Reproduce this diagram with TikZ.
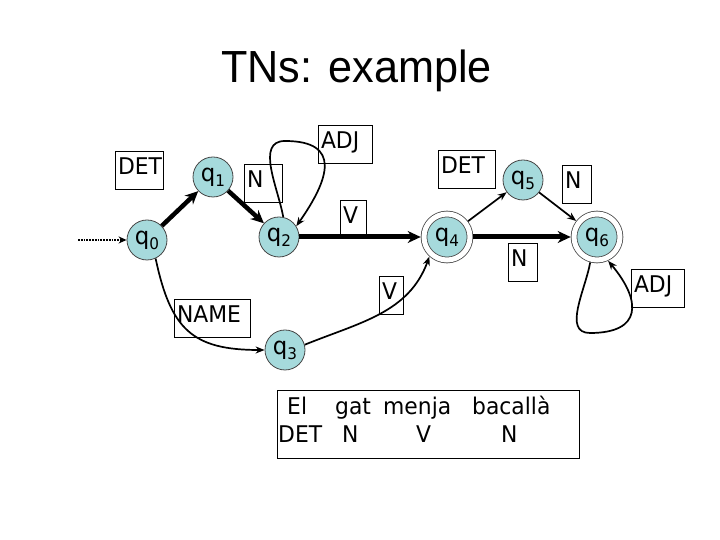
\documentclass[tikz,border=0pt]{standalone}
\usepackage{fontspec}
\setmainfont{DejaVu Sans}
\newfontfamily\labfont[FakeStretch=0.95]{DejaVu Sans}
\newfontfamily\titfont[FakeStretch=0.96]{Liberation Sans}
\usetikzlibrary{arrows.meta}
\definecolor{stfill}{RGB}{166,218,220}
\definecolor{stline}{RGB}{70,70,70}
\newcommand\qlab[1]{q\raisebox{-5pt}{\fontsize{16}{16}\selectfont #1}}
\tikzset{
 lbl/.style={draw=black, line width=0.9pt, inner xsep=3pt, inner ysep=0pt,
   minimum height=38pt, align=left, text height=17pt, text depth=8pt,
   font=\labfont\fontsize{23}{26}\selectfont},
 st/.style={circle, draw=stline, line width=0.8pt, fill=stfill, minimum size=40pt,
   inner sep=0pt, font=\labfont\fontsize{24}{28}\selectfont},
 acc/.style={st, double=white, double distance=5pt, minimum size=46pt, outer sep=3.3pt},
 thk/.style={line width=4.5pt, -{Stealth[length=13pt,width=12pt]}},
 thn/.style={line width=1.7pt, -{Stealth[length=9pt,width=7pt]}},
 word/.style={anchor=base west, inner sep=0pt, font=\labfont\fontsize{23}{26}\selectfont},
}
\begin{document}
\begin{tikzpicture}[x=1pt,y=1pt]
\useasboundingbox (0,0) rectangle (720,540);
% title
\node[anchor=base, inner sep=0pt, font=\titfont\fontsize{45}{50}\selectfont] (title) at (356.5,457) {TNs: example};
% label boxes
\node[lbl, text width=42pt] (detA) at (139,370) {DET};
\node[lbl, text width=32pt] (nA) at (263,356.5) {N};
\node[lbl, text width=48pt] (adjA) at (345,396) {ADJ};
\node[lbl, text width=20pt] (vA) at (353,321) {V};
\node[lbl, text width=51pt] (detB) at (466.5,371) {DET};
\node[lbl, text width=23pt] (nB) at (576.5,356) {N};
\node[lbl, text width=23pt] (nC) at (522.5,278) {N};
\node[lbl, text width=47pt] (adjB) at (657.5,251.5) {ADJ};
\node[lbl, text width=70pt] (name) at (212,221.5) {NAME};
\node[lbl, text width=18pt] (vB) at (391,245) {V};
% sentence
\node[draw=black, line width=0.9pt, minimum width=302pt, minimum height=68pt, inner sep=0pt] (sent) at (428,116) {};
\node[word] (w1) at (287,125) {El};
\node[word] (w2) at (335,125) {gat};
\node[word] (w3) at (383,125) {menja};
\node[word] (w4) at (472,125) {bacallà};
\node[word] (t1) at (278,97) {DET};
\node[word] (t2) at (342,97) {N};
\node[word] (t3) at (416,97) {V};
\node[word] (t4) at (501,97) {N};
% states
\node[st] (q0) at (147,300) {\qlab{0}};
\node[st] (q1) at (213,363) {\qlab{1}};
\node[st] (q2) at (279,303) {\qlab{2}};
\node[st] (q3) at (285,190) {\qlab{3}};
\node[acc] (q4) at (447,303) {\qlab{4}};
\node[st] (q5) at (523,360) {\qlab{5}};
\node[acc] (q6) at (597,303) {\qlab{6}};
% connectors
\coordinate (s) at (78,300);
\coordinate (top2) at (285,399);
\coordinate (bot6) at (590,207);
\draw[densely dotted, line width=1.8pt, -{Stealth[length=8pt,width=7pt]}] (s) -- (q0);
\draw[thk] (q0) -- (q1);
\draw[thk] (q1) -- (q2);
\draw[thk, line width=5pt] (q2) -- (q4);
\draw[thk, line width=5pt] (q4) -- (q6);
\draw[thn] (q4) -- (q5);
\draw[thn] (q5) -- (q6);
\draw[thn] (q2.78) to[out=100,in=180] (top2) to[out=0,in=55,looseness=1.7] (q2.32);
\draw[thn] (q6.255) to[out=260,in=180] (bot6) to[out=0,in=310,looseness=1.8] (q6.295);
\draw[thn] (q0.-65) to[out=-78,in=180,looseness=1.3] (q3);
\draw[thn] (q3.15) to[out=22,in=250] (q4.228);
\end{tikzpicture}
\end{document}
